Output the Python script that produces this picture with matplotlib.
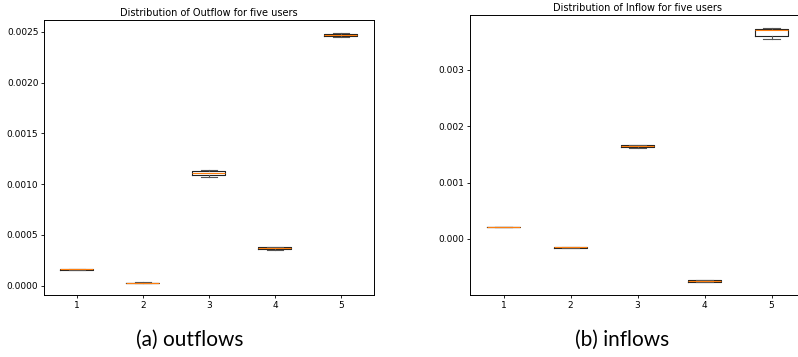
import matplotlib.pyplot as plt

# users on the x axis
users = [1, 2, 3, 4, 5]

# outflow per user: min, q1, median, q3, max
outflow_1 = [0.000152, 0.000155, 0.000160, 0.000164, 0.000167]
outflow_2 = [0.000026, 0.000027, 0.000029, 0.000031, 0.000032]
outflow_3 = [0.001075, 0.001085, 0.001110, 0.001130, 0.001140]
outflow_4 = [0.000355, 0.000362, 0.000370, 0.000378, 0.000383]
outflow_5 = [0.002450, 0.002462, 0.002472, 0.002483, 0.002490]

# inflow per user: min, q1, median, q3, max
inflow_1 = [0.000205, 0.000208, 0.000212, 0.000216, 0.000219]
inflow_2 = [-0.000160, -0.000155, -0.000148, -0.000140, -0.000135]
inflow_3 = [0.001620, 0.001632, 0.001650, 0.001665, 0.001675]
inflow_4 = [-0.000770, -0.000760, -0.000748, -0.000735, -0.000725]
inflow_5 = [0.003550, 0.003600, 0.003700, 0.003730, 0.003750]

outflows = [outflow_1, outflow_2, outflow_3, outflow_4, outflow_5]
inflows = [inflow_1, inflow_2, inflow_3, inflow_4, inflow_5]

fig = plt.figure(figsize=(7.98, 3.57), dpi=100)

ax1 = fig.add_axes([0.0551, 0.1737, 0.4135, 0.770])
ax2 = fig.add_axes([0.589, 0.1737, 0.4198, 0.784])

lw = 0.8
props = dict(linewidth=lw, color='#222222')


def draw(ax, data, title):
    ax.boxplot(data, positions=users, widths=0.5,
               boxprops=props, whiskerprops=dict(linewidth=lw, color='#555555'),
               capprops=dict(linewidth=lw, color='#555555'),
               medianprops=dict(linewidth=lw, color='#ff7f0e'))
    ax.set_title(title, fontsize=7, pad=3)
    ax.tick_params(labelsize=6.5, length=2, width=0.6, pad=2)
    for s in ax.spines.values():
        s.set_linewidth(0.7)


draw(ax1, outflows, 'Distribution of Outflow for five users')
ax1.set_ylim(-0.0000915, 0.002615)
ax1.set_yticks([0.0, 0.0005, 0.0010, 0.0015, 0.0020, 0.0025])
ax1.set_yticklabels(['0.0000', '0.0005', '0.0010', '0.0015', '0.0020', '0.0025'])

draw(ax2, inflows, 'Distribution of Inflow for five users')
ax2.set_ylim(-0.000993, 0.00397)
ax2.set_yticks([0.0, 0.001, 0.002, 0.003])
ax2.set_yticklabels(['0.000', '0.001', '0.002', '0.003'])

# captions under each panel
fig.text(0.238, 0.047, '(a) outflows', fontsize=15, family='Lato', ha='center', va='center')
fig.text(0.780, 0.047, '(b) inflows', fontsize=15, family='Lato', ha='center', va='center')

fig.savefig('out.png', dpi=100)
